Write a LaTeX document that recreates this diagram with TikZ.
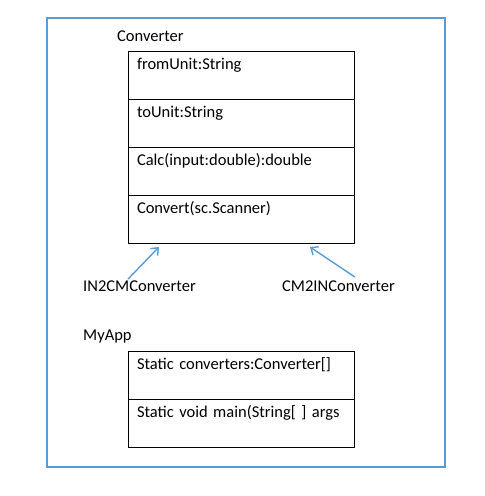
\documentclass[tikz,border=0pt]{standalone}
\usepackage{fontspec}
\setmainfont{Carlito}
\usepackage{xcolor}
\usepackage{tikz}
\usetikzlibrary{positioning,arrows.meta}
\definecolor{officeblue}{RGB}{91,155,213}

\begin{document}
\begin{tikzpicture}[
    x=1pt, y=-1pt,
    font=\fontsize{16.5}{19}\selectfont,
    row_box/.style={draw, line width=1pt, outer sep=0pt, inner xsep=9pt, inner ysep=0pt, text width=208pt, align=left, text height=18pt, text depth=30pt},
    title_text/.style={inner sep=0pt, anchor=base west},
    frame_line/.style={draw=officeblue, line width=2.2pt},
    uml_arrow/.style={-{Straight Barb[length=6pt,width=10pt]}, line width=1.4pt, draw=officeblue}
]
\useasboundingbox (0,0) rectangle (485,496);

\draw [frame_line] (47,18) rectangle (445,467);

% Converter class
\node (cvtitle) [title_text] at (117,41) {Converter};
\node (fromunit) [row_box, anchor=north west] at (128,51) {fromUnit:String};
\node (tounit)   [row_box, below=0pt of fromunit] {toUnit:String};
\node (calc)     [row_box, below=0pt of tounit] {Calc(input:double):double};
\node (convert)  [row_box, below=0pt of calc] {Convert(sc.Scanner)};

% subclasses
\node (in2cm) [title_text] at (83,291) {IN2CMConverter};
\node (cm2in) [title_text] at (282,291) {CM2INConverter};
\coordinate (in2cmtail) at ([xshift=45pt,yshift=1pt]in2cm.north west);
\coordinate (cm2intail) at ([xshift=73pt,yshift=3pt]cm2in.north west);

\draw [uml_arrow] (in2cmtail) -- ([xshift=31pt,yshift=-4pt]convert.south west);
\draw [uml_arrow] (cm2intail) -- ([xshift=-44pt,yshift=-4pt]convert.south east);

% MyApp class
\node (apptitle)  [title_text] at (83,340) {MyApp};
\node (convfield) [row_box, anchor=north west] at (128,351) {Static converters:Converter[]};
\node (mainmeth)  [row_box, below=0pt of convfield] {Static void main(String[ ] args};

\end{tikzpicture}
\end{document}
